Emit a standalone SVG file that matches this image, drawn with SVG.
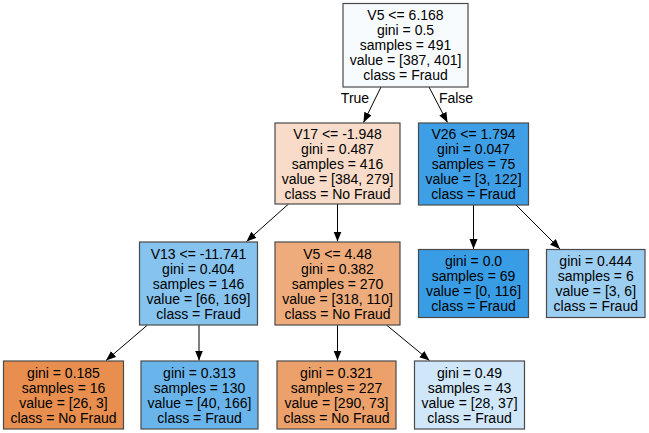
<svg xmlns="http://www.w3.org/2000/svg" width="649" height="433" viewBox="0 0 649 433">
<style>
.box{stroke:#4a4a4a;stroke-width:1.2}
text{font-family:"Liberation Sans",Arial,sans-serif;font-size:14px;fill:#000;text-anchor:middle}
.edge{stroke:#000;stroke-width:1;fill:none}
</style>
<defs>
<marker id="arr" markerUnits="userSpaceOnUse" markerWidth="12" markerHeight="10" refX="10" refY="4" orient="auto">
<path d="M0,0 L10,4 L0,8 Z" fill="#000"/>
</marker>
</defs>
<rect width="649" height="433" fill="#fff"/>
<g id="connectors">
<path class="edge" d="M381,87 L363.5,122.5" marker-end="url(#arr)"/>
<path class="edge" d="M429,87 L447.5,122.5" marker-end="url(#arr)"/>
<path class="edge" d="M288.5,204 L246.5,241.5" marker-end="url(#arr)"/>
<path class="edge" d="M337.5,204 L337.5,241.5" marker-end="url(#arr)"/>
<path class="edge" d="M473.5,205 L473.5,249" marker-end="url(#arr)"/>
<path class="edge" d="M516,205 L560,249" marker-end="url(#arr)"/>
<path class="edge" d="M147.5,325 L106,360.5" marker-end="url(#arr)"/>
<path class="edge" d="M199,325 L199,360.5" marker-end="url(#arr)"/>
<path class="edge" d="M337.5,325 L337.5,360.5" marker-end="url(#arr)"/>
<path class="edge" d="M386.5,325 L429.5,360.5" marker-end="url(#arr)"/>
<text x="355" y="103">True</text>
<text x="456" y="103">False</text>
</g>
<g id="n0">
<rect class="box" x="343" y="3.5" width="125" height="83.5" fill="#f8fbfe"/>
<text x="405.5" y="20">V5 &lt;= 6.168</text>
<text x="405.5" y="35">gini = 0.5</text>
<text x="405.5" y="50">samples = 491</text>
<text x="405.5" y="65">value = [387, 401]</text>
<text x="405.5" y="80">class = Fraud</text>
</g>
<g id="n1">
<rect class="box" x="275" y="123" width="125" height="81" fill="#f8dcc9"/>
<text x="337.5" y="138.5">V17 &lt;= -1.948</text>
<text x="337.5" y="153.5">gini = 0.487</text>
<text x="337.5" y="168.5">samples = 416</text>
<text x="337.5" y="183.5">value = [384, 279]</text>
<text x="337.5" y="198.5">class = No Fraud</text>
</g>
<g id="n8">
<rect class="box" x="418.5" y="123" width="110" height="82" fill="#3e9fe6"/>
<text x="473.5" y="139">V26 &lt;= 1.794</text>
<text x="473.5" y="154">gini = 0.047</text>
<text x="473.5" y="169">samples = 75</text>
<text x="473.5" y="184">value = [3, 122]</text>
<text x="473.5" y="199">class = Fraud</text>
</g>
<g id="n2">
<rect class="box" x="139.5" y="242" width="118" height="83" fill="#86c3ef"/>
<text x="198.5" y="258.5">V13 &lt;= -11.741</text>
<text x="198.5" y="273.5">gini = 0.404</text>
<text x="198.5" y="288.5">samples = 146</text>
<text x="198.5" y="303.5">value = [66, 169]</text>
<text x="198.5" y="318.5">class = Fraud</text>
</g>
<g id="n5">
<rect class="box" x="275" y="242" width="125" height="83" fill="#eeac7d"/>
<text x="337.5" y="258.5">V5 &lt;= 4.48</text>
<text x="337.5" y="273.5">gini = 0.382</text>
<text x="337.5" y="288.5">samples = 270</text>
<text x="337.5" y="303.5">value = [318, 110]</text>
<text x="337.5" y="318.5">class = No Fraud</text>
</g>
<g id="n9">
<rect class="box" x="418.5" y="249.5" width="110" height="68" fill="#399de5"/>
<text x="473.5" y="265.5">gini = 0.0</text>
<text x="473.5" y="280.5">samples = 69</text>
<text x="473.5" y="295.5">value = [0, 116]</text>
<text x="473.5" y="310.5">class = Fraud</text>
</g>
<g id="n10">
<rect class="box" x="546.5" y="249.5" width="98.5" height="68" fill="#9ccef2"/>
<text x="595.75" y="265.5">gini = 0.444</text>
<text x="595.75" y="280.5">samples = 6</text>
<text x="595.75" y="295.5">value = [3, 6]</text>
<text x="595.75" y="310.5">class = Fraud</text>
</g>
<g id="n3">
<rect class="box" x="3.5" y="361" width="120" height="68" fill="#e88f50"/>
<text x="63.5" y="377.5">gini = 0.185</text>
<text x="63.5" y="392.5">samples = 16</text>
<text x="63.5" y="407.5">value = [26, 3]</text>
<text x="63.5" y="422.5">class = No Fraud</text>
</g>
<g id="n4">
<rect class="box" x="141" y="361" width="117" height="68" fill="#69b5eb"/>
<text x="199.5" y="377.5">gini = 0.313</text>
<text x="199.5" y="392.5">samples = 130</text>
<text x="199.5" y="407.5">value = [40, 166]</text>
<text x="199.5" y="422.5">class = Fraud</text>
</g>
<g id="n6">
<rect class="box" x="277" y="361" width="119" height="68" fill="#eca16b"/>
<text x="336.5" y="377.5">gini = 0.321</text>
<text x="336.5" y="392.5">samples = 227</text>
<text x="336.5" y="407.5">value = [290, 73]</text>
<text x="336.5" y="422.5">class = No Fraud</text>
</g>
<g id="n7">
<rect class="box" x="414.5" y="361" width="110" height="68" fill="#cfe7f9"/>
<text x="469.5" y="377.5">gini = 0.49</text>
<text x="469.5" y="392.5">samples = 43</text>
<text x="469.5" y="407.5">value = [28, 37]</text>
<text x="469.5" y="422.5">class = Fraud</text>
</g>
</svg>
